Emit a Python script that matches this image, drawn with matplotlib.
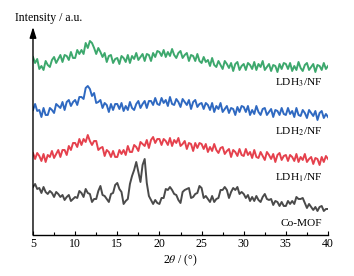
import numpy as np
import matplotlib
matplotlib.use("Agg")
import matplotlib.pyplot as plt

plt.rcParams['font.family'] = ['Liberation Serif', 'DejaVu Serif']
plt.rcParams['mathtext.fontset'] = 'stix'

# 2theta grid: 5 to 40 deg, step 0.25
two_theta = np.arange(141) * 0.25 + 5.0

ldh3_nf = [
    178, 172, 176, 166, 169, 165, 174, 170, 168, 175, 178, 172, 176, 180, 173, 180, 179, 175, 183, 177,
    177, 185, 181, 185, 181, 192, 187, 194, 192, 187, 181, 187, 183, 178, 182, 173, 179, 180, 172, 176,
    177, 171, 179, 177, 173, 180, 172, 179, 176, 182, 175, 178, 181, 174, 181, 180, 174, 182, 178, 184,
    183, 179, 185, 178, 183, 179, 186, 180, 177, 182, 184, 177, 180, 182, 174, 180, 179, 174, 181, 174,
    172, 178, 173, 175, 169, 177, 170, 168, 174, 170, 166, 174, 171, 167, 172, 164, 171, 173, 165, 169,
    171, 165, 172, 170, 166, 173, 165, 171, 168, 174, 165, 168, 171, 164, 170, 169, 163, 171, 166, 172,
    171, 166, 172, 164, 169, 165, 173, 167, 164, 170, 172, 165, 168, 171, 163, 170, 169, 165, 172, 166,
    169,
]

ldh2_nf = [
    125, 131, 124, 125, 118, 127, 120, 120, 127, 125, 122, 131, 129, 127, 133, 125, 133, 135, 129, 133,
    135, 130, 138, 138, 136, 147, 149, 146, 139, 142, 132, 133, 135, 127, 132, 130, 123, 131, 125, 131,
    131, 126, 132, 124, 129, 125, 133, 127, 125, 131, 134, 127, 131, 134, 127, 134, 134, 130, 137, 131,
    130, 137, 132, 135, 129, 138, 131, 130, 136, 133, 128, 136, 133, 130, 135, 126, 133, 135, 128, 131,
    132, 126, 132, 130, 125, 132, 123, 129, 126, 132, 123, 126, 129, 122, 127, 126, 120, 128, 123, 129,
    128, 123, 129, 120, 125, 121, 129, 123, 120, 126, 127, 120, 123, 126, 118, 125, 124, 120, 127, 121,
    120, 127, 121, 124, 118, 127, 120, 119, 125, 122, 117, 125, 122, 119, 124, 115, 122, 124, 117, 121,
    118,
]

ldh1_nf = [
    82, 76, 82, 79, 74, 81, 73, 80, 78, 84, 77, 81, 85, 78, 85, 85, 80, 89, 85, 92,
    92, 88, 96, 90, 96, 93, 100, 94, 90, 94, 94, 85, 87, 88, 79, 85, 83, 78, 84, 78,
    78, 85, 81, 85, 80, 89, 83, 83, 90, 88, 84, 93, 91, 89, 95, 87, 95, 98, 92, 96,
    96, 90, 96, 94, 90, 97, 89, 95, 92, 97, 89, 91, 94, 86, 92, 91, 84, 92, 87, 92,
    91, 86, 91, 83, 88, 84, 91, 85, 82, 87, 88, 81, 84, 86, 78, 85, 83, 79, 86, 80,
    79, 86, 80, 83, 77, 85, 78, 77, 83, 79, 75, 83, 80, 76, 81, 73, 80, 82, 75, 79,
    80, 74, 80, 78, 74, 81, 73, 78, 75, 81, 73, 76, 78, 71, 77, 76, 70, 78, 73, 79,
    76,
]

co_mof = [
    48, 51, 46, 47, 42, 48, 43, 41, 44, 42, 38, 43, 41, 38, 40, 35, 38, 40, 34, 36,
    38, 37, 44, 42, 38, 46, 42, 41, 33, 36, 36, 44, 49, 40, 39, 36, 33, 41, 42, 50,
    52, 46, 43, 31, 34, 36, 51, 59, 65, 73, 63, 53, 70, 76, 52, 39, 35, 31, 35, 32,
    31, 37, 37, 46, 45, 48, 45, 41, 40, 35, 32, 43, 45, 46, 47, 37, 38, 41, 42, 49,
    47, 37, 39, 36, 33, 39, 33, 36, 37, 45, 45, 48, 45, 37, 43, 47, 45, 48, 41, 43,
    41, 37, 40, 34, 38, 34, 39, 35, 33, 38, 41, 36, 35, 36, 30, 34, 33, 29, 33, 29,
    29, 34, 31, 34, 31, 38, 36, 36, 37, 32, 27, 31, 28, 25, 28, 24, 28, 29, 24, 26,
    26,
]

series = [
    (ldh3_nf, '#3da86d', 'LDH$_3$/NF', 152),
    (ldh2_nf, '#2f69c1', 'LDH$_2$/NF', 103),
    (ldh1_nf, '#e5414d', 'LDH$_1$/NF', 57),
    (co_mof, '#4a4a4a', 'Co-MOF', 11),
]

fig = plt.figure(figsize=(3.54, 2.76), dpi=100)
ax = fig.add_axes([0.0932, 0.1486, 0.8334, 0.7536])

for vals, col, lab, ly in series:
    ax.plot(two_theta, vals, color=col, lw=1.4)
    ax.text(39.3, ly, lab, ha='right', va='center', fontsize=8.2, color='black')

ax.set_xlim(5, 40)
ax.set_ylim(0, 208)
ax.spines['top'].set_visible(False)
ax.spines['right'].set_visible(False)
ax.spines['left'].set_visible(False)
ax.spines['bottom'].set_linewidth(1.0)
ax.set_yticks([])
ax.set_xticks(np.arange(5, 41, 5))
ax.set_xticks(np.arange(7.5, 40, 5), minor=True)
ax.tick_params(axis='x', which='major', direction='in', length=3, width=0.8, labelsize=8.5, pad=2.5)
ax.tick_params(axis='x', which='minor', direction='in', length=2, width=0.8)
ax.set_xlabel('2$\\theta$ / (°)', fontsize=8.5, labelpad=1.5)

ax.annotate('', xy=(0, 1.0), xytext=(0, 0), xycoords='axes fraction',
            arrowprops=dict(arrowstyle='-|>,head_length=0.8,head_width=0.25', lw=1.0,
                            color='black', mutation_scale=8, shrinkA=0, shrinkB=0))
fig.text(15 / 354, 1 - 18 / 276, 'Intensity / a.u.', ha='left', va='center', fontsize=8.5)

fig.savefig('out.png', dpi=100)
